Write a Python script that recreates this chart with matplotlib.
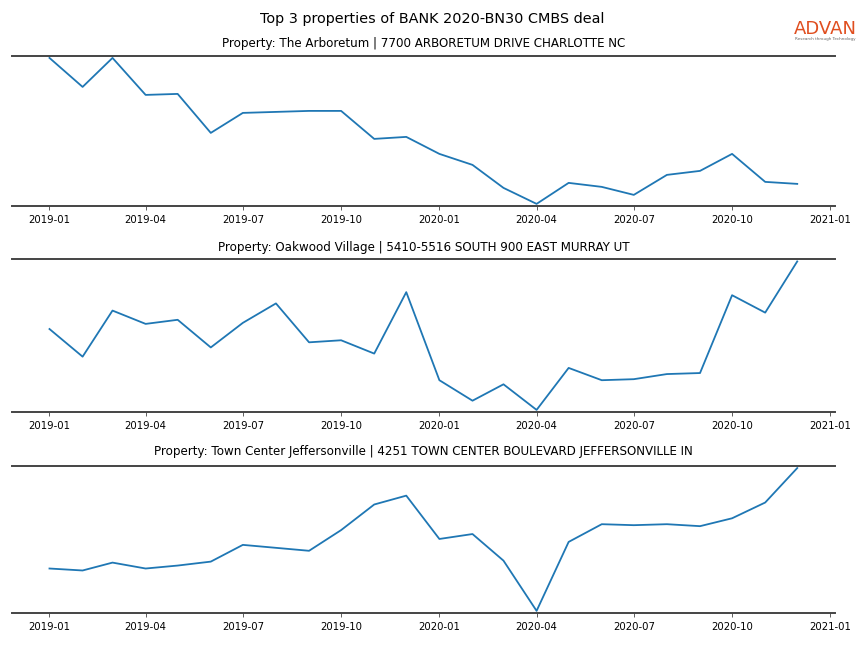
import numpy as np
import pandas as pd
import matplotlib
matplotlib.use('Agg')
import matplotlib.pyplot as plt
import matplotlib.dates as mdates

# Monthly series, 2019-01 .. 2020-12 (relative scale)
months = pd.date_range('2019-01-01', '2020-12-01', freq='MS')

arboretum = [147, 118, 147, 110, 111, 72, 92, 93, 94, 94, 66, 68,
             51, 40, 17, 1, 22, 18, 10, 30, 34, 51, 23, 21]
oakwood = [83, 56, 101, 88, 92, 65, 89, 108, 70, 72, 59, 119,
           33, 13, 29, 4, 45, 33, 34, 39, 40, 116, 99, 149]
town_center = [44, 42, 50, 44, 47, 51, 68, 65, 62, 83, 109, 118,
               74, 79, 52, 1, 71, 89, 88, 89, 87, 95, 111, 146]

titles = [
    'Property: The Arboretum | 7700 ARBORETUM DRIVE CHARLOTTE NC',
    'Property: Oakwood Village | 5410-5516 SOUTH 900 EAST MURRAY UT',
    'Property: Town Center Jeffersonville | 4251 TOWN CENTER BOULEVARD JEFFERSONVILLE IN',
]
series = [arboretum, oakwood, town_center]

fig = plt.figure(figsize=(8.64, 6.48), dpi=100)

# axes boxes [left, bottom, width, height] in figure fraction
boxes = [
    [0.014, 0.682, 0.952, 0.232],
    [0.014, 0.364, 0.952, 0.236],
    [0.014, 0.054, 0.952, 0.227],
]
title_pads = [6, 6, 8]

for box, vals, title, pad in zip(boxes, series, titles, title_pads):
    ax = fig.add_axes(box)
    ax.plot(months, vals, color='#1f77b4', linewidth=1.3)
    ax.margins(y=0.015)
    ax.set_title(title, fontsize=8.6, pad=pad)
    for side in ['left', 'right']:
        ax.spines[side].set_visible(False)
    for side in ['top', 'bottom']:
        ax.spines[side].set_color('#444444')
        ax.spines[side].set_linewidth(1.4)
    ax.set_yticks([])
    ax.xaxis.set_major_locator(mdates.MonthLocator(bymonth=[1, 4, 7, 10]))
    ax.xaxis.set_major_formatter(mdates.DateFormatter('%Y-%m'))
    ax.tick_params(axis='x', labelsize=7.3, length=3, width=0.6, color='#444444')

fig.text(0.5, 0.97, 'Top 3 properties of BANK 2020-BN30 CMBS deal',
         ha='center', va='center', fontsize=10.4)

# logo
fig.text(0.955, 0.956, 'ADVAN', ha='center', va='center', fontsize=13,
         color='#e04e1f')
fig.text(0.955, 0.940, 'Research through Technology', ha='center', va='center',
         fontsize=3, color='#666666')

fig.savefig('out.png', dpi=100)
plt.close(fig)
